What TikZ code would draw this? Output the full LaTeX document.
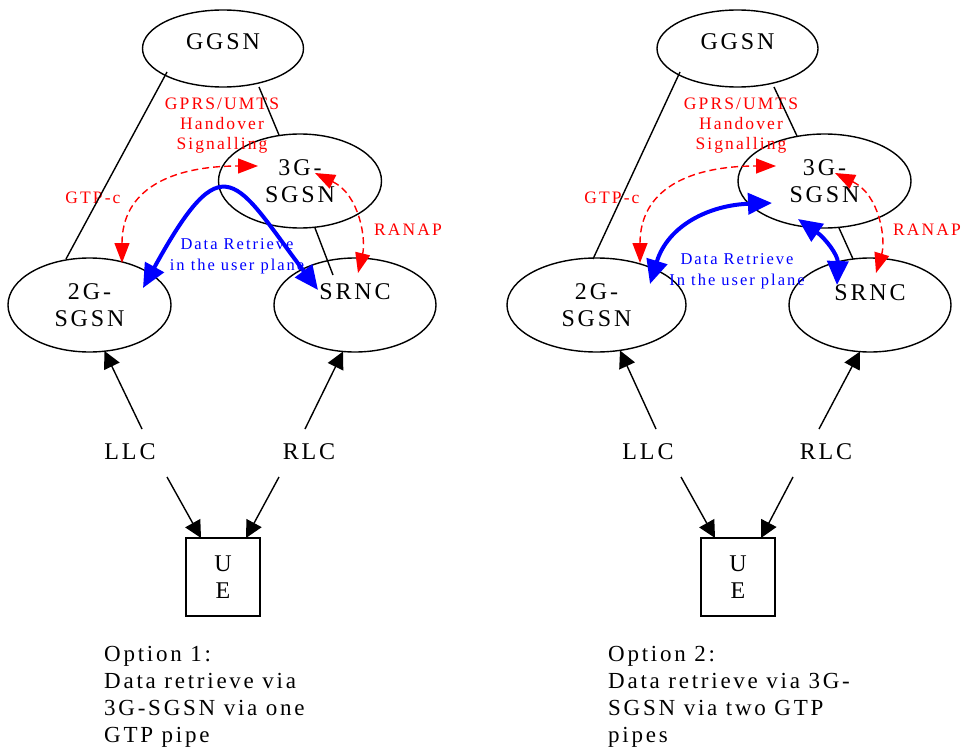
\documentclass[tikz,border=0pt]{standalone}
\usepackage{fontspec}
\setmainfont[LetterSpace=12]{Liberation Serif}
\usetikzlibrary{shapes.geometric,arrows.meta,calc}

\begin{document}
\begin{tikzpicture}[x=1pt,y=-1pt,
  every node/.style={inner sep=0pt},
  net/.style={draw,ellipse,line width=1.4pt,align=center,font=\fontsize{24}{27}\selectfont},
  plain/.style={font=\fontsize{24}{27}\selectfont},
  uebox/.style={draw,line width=1.4pt,minimum width=74,minimum height=78,align=center,font=\fontsize{24}{27}\selectfont},
  caption/.style={anchor=west,align=left,font=\fontsize{23}{27}\selectfont},
  redlab/.style={red,align=center,font=\fontsize{17.5}{20}\selectfont},
  bluelab/.style={blue,align=center,font=\fontsize{16.5}{21}\selectfont},
  edge/.style={line width=1.4pt},
  arr/.style={-{Triangle[length=17pt,width=17pt]}},
  sig/.style={red,line width=1.4pt,dash pattern=on 7pt off 4pt,{Triangle[length=20pt,width=15pt]}-{Triangle[length=20pt,width=15pt]}},
  pipe/.style={blue,line width=4pt,{Triangle[length=24pt,width=21pt]}-{Triangle[length=24pt,width=21pt]}}]
\useasboundingbox (0,0) rectangle (961,749);
% option 1
\node[net,minimum width=161,minimum height=77,text depth=13pt] (ggsnA) at (223,48.5) {GGSN};
\node[net,minimum width=163,minimum height=94] (sgsn3A) at (300,181) {3G-\\SGSN};
\node[net,minimum width=163,minimum height=94] (sgsn2A) at (89.5,305) {2G-\\SGSN};
\node[net,minimum width=162,minimum height=94,text depth=27pt] (srncA) at (355,305) {SRNC};
\node[plain] (llcA) at (130,452) {LLC};
\node[plain] (rlcA) at (309,452) {RLC};
\node[uebox] (ueA) at (223,577) {U\\E};
\node[caption] (optA) at (104,697) {Option 1:\\Data retrieve via\\3G-SGSN via one\\GTP pipe};
\node[redlab] (hoA) at (222,126) {GPRS/UMTS\\Handover\\Signalling};
\node[redlab] (gtpcA) at (93,198) {GTP-c};
\node[redlab] (ranapA) at (408,230) {RANAP};
\node[bluelab] (dataA) at (237,256) {Data Retrieve\\in the user plane};
\draw[edge] ($(ggsnA)+(-56,23.5)$) -- ($(sgsn2A)+(-23.5,-46)$);
\draw[edge] ($(ggsnA)+(36,38.5)$) -- ($(sgsn3A)+(-21,-46)$);
\draw[edge] ($(sgsn3A)+(15,47)$) -- ($(srncA)+(-22,-30)$);
\draw[edge,arr] ($(llcA)+(12,-23)$) -- ($(sgsn2A)+(15,46)$);
\draw[edge,arr] ($(rlcA)+(-4,-23)$) -- ($(srncA)+(-12,46.5)$);
\draw[edge,arr] ($(llcA)+(37,25)$) -- ($(ueA)+(-22,-39)$);
\draw[edge,arr] ($(rlcA)+(-30,25)$) -- ($(ueA)+(23,-39)$);
\draw[sig] ($(sgsn2A)+(32.5,-42)$) .. controls ($(sgsn2A)+(32.5,-115)$) and ($(sgsn3A)+(-130,-15)$) .. ($(sgsn3A)+(-42,-15)$);
\draw[sig] ($(sgsn3A)+(15,-8)$) .. controls ($(sgsn3A)+(60,14)$) and ($(srncA)+(11,-65)$) .. ($(srncA)+(3,-32)$);
\draw[pipe] ($(sgsn2A)+(53.5,-17)$) .. controls ($(sgsn2A)+(135,-165)$) and ($(srncA)+(-120,-125)$) .. ($(srncA)+(-37,-15)$);
% option 2
\node[net,minimum width=161,minimum height=77,text depth=13pt] (ggsnB) at (737.5,48.5) {GGSN};
\node[net,minimum width=173,minimum height=94] (sgsn3B) at (824.5,181) {3G-\\SGSN};
\node[net,minimum width=179,minimum height=94] (sgsn2B) at (596.5,305) {2G-\\SGSN};
\node[net,minimum width=162,minimum height=94,text depth=24pt] (srncB) at (870,305) {SRNC};
\node[plain] (llcB) at (648,452) {LLC};
\node[plain] (rlcB) at (826,452) {RLC};
\node[uebox] (ueB) at (738,577) {U\\E};
\node[caption] (optB) at (608,697) {Option 2:\\Data retrieve via 3G-\\SGSN via two GTP\\pipes};
\node[redlab] (hoB) at (741,126) {GPRS/UMTS\\Handover\\Signalling};
\node[redlab] (gtpcB) at (612,198) {GTP-c};
\node[redlab] (ranapB) at (927,230) {RANAP};
\node[bluelab] (dataB) at (737,271) {Data Retrieve\\In the user plane};
\draw[edge] ($(ggsnB)+(-57.5,23.5)$) -- ($(sgsn2B)+(-3.5,-46)$);
\draw[edge] ($(ggsnB)+(36.5,38.5)$) -- ($(sgsn3B)+(-27.5,-45)$);
\draw[edge] ($(sgsn3B)+(14.5,47)$) -- ($(srncB)+(-17,-46)$);
\draw[edge,arr] ($(llcB)+(8,-23)$) -- ($(sgsn2B)+(23.5,45.5)$);
\draw[edge,arr] ($(rlcB)+(-7,-23)$) -- ($(srncB)+(-10,46.5)$);
\draw[edge,arr] ($(llcB)+(33,25)$) -- ($(ueB)+(-23,-39)$);
\draw[edge,arr] ($(rlcB)+(-33,25)$) -- ($(ueB)+(23,-39)$);
\draw[sig] ($(sgsn2B)+(43.5,-42)$) .. controls ($(sgsn2B)+(43.5,-115)$) and ($(sgsn3B)+(-136.5,-15)$) .. ($(sgsn3B)+(-48.5,-15)$);
\draw[sig] ($(sgsn3B)+(10.5,-8)$) .. controls ($(sgsn3B)+(55.5,14)$) and ($(srncB)+(16,-65)$) .. ($(srncB)+(6,-32)$);
\draw[pipe] ($(sgsn2B)+(53.5,-21)$) .. controls ($(sgsn2B)+(71.5,-80)$) and ($(sgsn3B)+(-114.5,24)$) .. ($(sgsn3B)+(-52.5,22)$);
\draw[pipe] ($(sgsn3B)+(-26.5,38)$) .. controls ($(sgsn3B)+(0.5,57)$) and ($(srncB)+(-32,-50)$) .. ($(srncB)+(-33,-20)$);
\end{tikzpicture}
\end{document}
